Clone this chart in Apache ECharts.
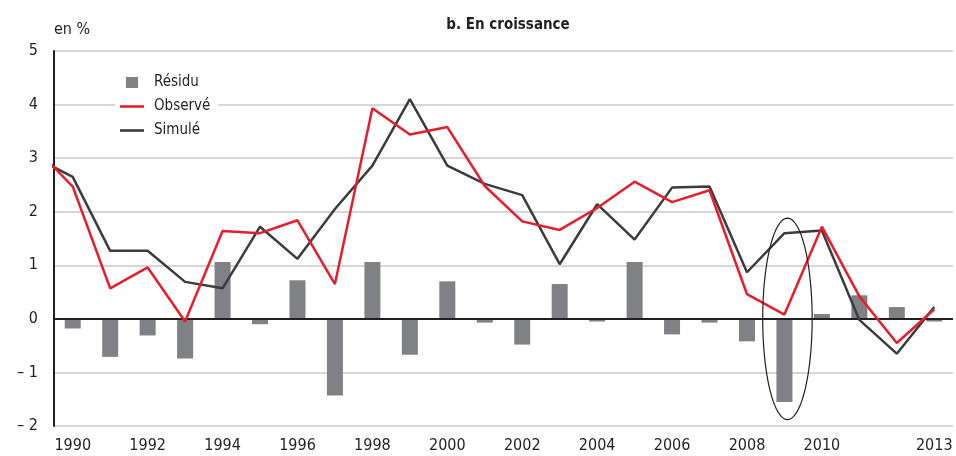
<!DOCTYPE html>
<html>
<head>
<meta charset="utf-8">
<script src="https://cdn.jsdelivr.net/npm/echarts@6/dist/echarts.min.js"></script>
<style>
  html, body { margin: 0; padding: 0; background: #fff; }
  #chart { width: 956px; height: 456px; }
</style>
</head>
<body>
<div id="chart"></div>
<script>
// Growth: observed vs simulated, with residual bars (en %)
const years = ['1990','1991','1992','1993','1994','1995','1996','1997','1998','1999','2000','2001',
               '2002','2003','2004','2005','2006','2007','2008','2009','2010','2011','2012','2013'];
const shownYears = ['1990','1992','1994','1996','1998','2000','2002','2004','2006','2008','2010','2013'];

const residu = [-0.18, -0.71, -0.31, -0.74, 1.06, -0.10, 0.72, -1.43, 1.06, -0.67, 0.70, -0.07,
                -0.48, 0.65, -0.05, 1.06, -0.29, -0.07, -0.42, -1.55, 0.09, 0.44, 0.22, -0.05];

// line series start one year earlier; the segment is clipped at the axis start
const lineYears = [1989, 1990, 1991, 1992, 1993, 1994, 1995, 1996, 1997, 1998, 1999, 2000, 2001,
                   2002, 2003, 2004, 2005, 2006, 2007, 2008, 2009, 2010, 2011, 2012, 2013];
const observe = [3.19, 2.47, 0.57, 0.96, -0.05, 1.64, 1.60, 1.84, 0.65, 3.93, 3.44, 3.58, 2.48,
                 1.82, 1.66, 2.07, 2.56, 2.18, 2.40, 0.46, 0.08, 1.72, 0.42, -0.45, 0.18];
const simule  = [3.01, 2.65, 1.27, 1.27, 0.69, 0.57, 1.72, 1.12, 2.05, 2.86, 4.10, 2.86, 2.52,
                 2.31, 1.02, 2.14, 1.48, 2.45, 2.47, 0.87, 1.60, 1.65, -0.02, -0.65, 0.22];

// highlighted year (ellipse around 2009): centre and radii in data units
const ellipse = [[2009.08, 0, 0.66, 1.88]];

const FONT = "'Liberation Sans Narrow', 'DejaVu Sans Condensed', 'Arial Narrow', sans-serif";
const TXT = '#231f20';
const RED = '#e61e2c';
const DARK = '#3c3c3e';
const GREY = '#808184';

const chart = echarts.init(document.getElementById('chart'), null, { renderer: 'canvas' });

chart.setOption({
  animation: false,
  backgroundColor: '#ffffff',
  textStyle: { fontFamily: FONT, color: TXT },
  title: {
    text: 'b. En croissance',
    left: 503, top: 13, textAlign: 'center',
    textStyle: { fontFamily: FONT, fontSize: 15, fontWeight: 'bold', color: TXT }
  },
  legend: {
    data: [
      { name: 'Résidu', icon: 'path://M0,0H11V10H0Z' },
      { name: 'Observé', icon: 'path://M0,0H24V2.6H0Z' },
      { name: 'Simulé', icon: 'path://M0,0H24V2.6H0Z' }
    ],
    orient: 'vertical',
    left: 115, top: 70,
    padding: [5, 8, 5, 5],
    itemGap: 9,
    itemWidth: 24, itemHeight: 11,
    symbolKeepAspect: true,
    backgroundColor: '#ffffff',
    textStyle: { fontFamily: FONT, fontSize: 15, color: TXT, padding: [0, 0, 0, 5] }
  },
  grid: { left: 54, right: 3, top: 51, bottom: 30, containLabel: false },
  xAxis: [
    {
      type: 'category',
      data: years,
      position: 'bottom',
      boundaryGap: true,
      axisLine: { show: false },
      axisTick: { show: false },
      splitLine: { show: false },
      axisLabel: {
        interval: (idx, val) => shownYears.includes(val),
        margin: 12,
        fontFamily: FONT, fontSize: 16, color: TXT
      }
    },
    {
      type: 'value',
      min: 1989.5, max: 2013.5,
      position: 'top',
      axisLine: { show: false },
      axisTick: { show: false },
      axisLabel: { show: false },
      splitLine: { show: false }
    }
  ],
  yAxis: {
    type: 'value',
    min: -2, max: 5, interval: 1,
    name: 'en %',
    nameLocation: 'end',
    nameGap: 13,
    nameTextStyle: { fontFamily: FONT, fontSize: 16, color: TXT, align: 'left' },
    axisLine: { show: true, onZero: false, lineStyle: { color: TXT, width: 2 } },
    axisTick: { show: false },
    axisLabel: {
      margin: 16,
      fontFamily: FONT, fontSize: 16, color: TXT,
      formatter: v => (v < 0 ? '\u2013 ' + Math.abs(v) : String(v))
    },
    splitLine: { show: true, lineStyle: { color: '#c8c8c8', width: 1.5 } }
  },
  series: [
    {
      name: 'Résidu',
      type: 'bar',
      xAxisIndex: 0,
      data: residu,
      barWidth: 16,
      z: 2,
      itemStyle: { color: GREY },
      markLine: {
        silent: true,
        symbol: 'none',
        z: 3,
        label: { show: false },
        lineStyle: { color: TXT, width: 2, type: 'solid' },
        data: [{ yAxis: 0 }]
      }
    },
    {
      name: 'Observé',
      type: 'line',
      xAxisIndex: 1,
      data: lineYears.map((y, i) => [y, observe[i]]),
      symbol: 'none',
      clip: true,
      z: 5,
      lineStyle: { color: RED, width: 2.5 },
      itemStyle: { color: RED }
    },
    {
      name: 'Simulé',
      type: 'line',
      xAxisIndex: 1,
      data: lineYears.map((y, i) => [y, simule[i]]),
      symbol: 'none',
      clip: true,
      z: 4,
      lineStyle: { color: DARK, width: 2.5 },
      itemStyle: { color: DARK }
    },
    {
      name: 'ellipse',
      type: 'custom',
      xAxisIndex: 1,
      z: 6,
      silent: true,
      data: ellipse,
      renderItem: (params, api) => {
        const cx = api.value(0), cy = api.value(1), rxv = api.value(2), ryv = api.value(3);
        const c = api.coord([cx, cy]);
        const rx = api.coord([cx + rxv, cy])[0] - c[0];
        const ry = c[1] - api.coord([cx, cy + ryv])[1];
        const pts = [];
        for (let k = 0; k < 96; k++) {
          const t = (k / 96) * Math.PI * 2;
          pts.push([c[0] + rx * Math.cos(t), c[1] + ry * Math.sin(t)]);
        }
        return {
          type: 'polygon',
          shape: { points: pts },
          style: { fill: 'none', stroke: TXT, lineWidth: 1.2 }
        };
      }
    }
  ]
});
</script>
</body>
</html>
